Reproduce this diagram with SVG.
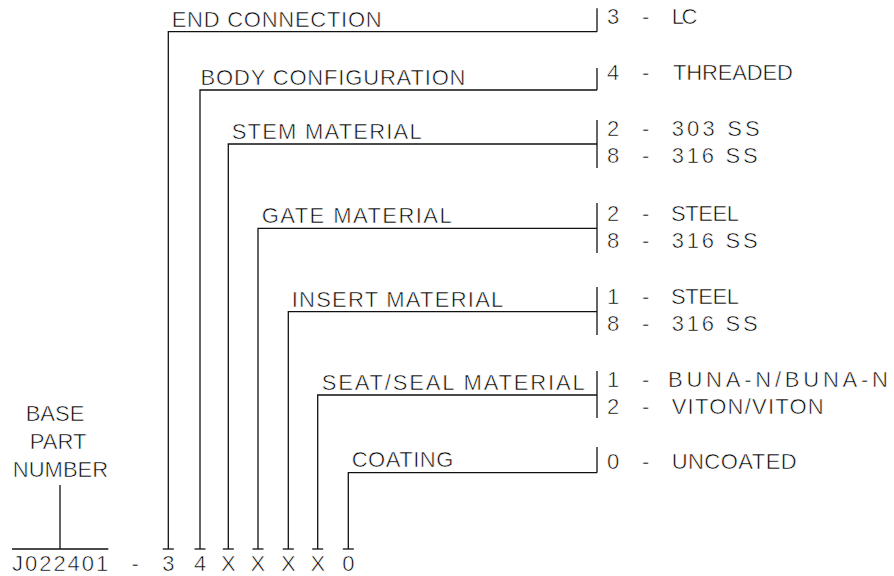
<svg xmlns="http://www.w3.org/2000/svg" width="894" height="576" viewBox="0 0 894 576">
<style>
text{font-family:"Liberation Sans",Arial,sans-serif;font-size:22px;fill:#000;stroke:#fff;stroke-width:0.6px}
.ln{fill:none;stroke:#111;stroke-width:1.3}
.c{text-anchor:middle}
</style>
<rect width="894" height="576" fill="#fff"/>
<g id="connectors" class="ln">
<polyline points="597,31.7 168.3,31.7 168.3,549"/>
<polyline points="597,90 200,90 200,549"/>
<polyline points="597,144 228.3,144 228.3,549"/>
<polyline points="597,228.3 258,228.3 258,549"/>
<polyline points="597,311.7 288.3,311.7 288.3,549"/>
<polyline points="597,395 317.7,395 317.7,549"/>
<polyline points="597,472.7 348.3,472.7 348.3,549"/>
<line x1="60" y1="485" x2="60" y2="549"/>
<line x1="597" y1="8.3" x2="597" y2="31.7"/>
<line x1="597" y1="68" x2="597" y2="90"/>
<line x1="597" y1="120" x2="597" y2="168"/>
<line x1="597" y1="203" x2="597" y2="253"/>
<line x1="597" y1="287" x2="597" y2="335"/>
<line x1="597" y1="371" x2="597" y2="418"/>
<line x1="597" y1="447" x2="597" y2="472.7"/>
</g>
<g id="end-connection">
<text x="171.7" y="26.7" textLength="210" lengthAdjust="spacing">END CONNECTION</text>
<text y="24"><tspan x="607">3</tspan> <tspan x="642">-</tspan> <tspan x="671.7" textLength="25.6" lengthAdjust="spacing">LC</tspan></text>
</g>
<g id="body-configuration">
<text x="200.5" y="85" textLength="265" lengthAdjust="spacing">BODY CONFIGURATION</text>
<text y="80"><tspan x="607">4</tspan> <tspan x="642">-</tspan> <tspan x="673" textLength="120" lengthAdjust="spacing">THREADED</tspan></text>
</g>
<g id="stem-material">
<text x="231.7" y="139.3" textLength="190" lengthAdjust="spacing">STEM MATERIAL</text>
<text y="136"><tspan x="607">2</tspan> <tspan x="642">-</tspan> <tspan x="671.7" textLength="88" lengthAdjust="spacing">303 SS</tspan></text>
<text y="163"><tspan x="607">8</tspan> <tspan x="642">-</tspan> <tspan x="671.7" textLength="86" lengthAdjust="spacing">316 SS</tspan></text>
</g>
<g id="gate-material">
<text x="261.7" y="223.3" textLength="190" lengthAdjust="spacing">GATE MATERIAL</text>
<text y="221"><tspan x="607">2</tspan> <tspan x="642">-</tspan> <tspan x="671" textLength="68" lengthAdjust="spacing">STEEL</tspan></text>
<text y="248"><tspan x="607">8</tspan> <tspan x="642">-</tspan> <tspan x="671.7" textLength="86" lengthAdjust="spacing">316 SS</tspan></text>
</g>
<g id="insert-material">
<text x="291.7" y="306.7" textLength="211.6" lengthAdjust="spacing">INSERT MATERIAL</text>
<text y="304"><tspan x="607">1</tspan> <tspan x="642">-</tspan> <tspan x="671" textLength="68" lengthAdjust="spacing">STEEL</tspan></text>
<text y="331"><tspan x="607">8</tspan> <tspan x="642">-</tspan> <tspan x="671.7" textLength="86" lengthAdjust="spacing">316 SS</tspan></text>
</g>
<g id="seat-seal-material">
<text x="321.7" y="390" textLength="263" lengthAdjust="spacing">SEAT/SEAL MATERIAL</text>
<text y="386.5"><tspan x="607">1</tspan> <tspan x="642">-</tspan> <tspan x="668" textLength="220" lengthAdjust="spacing">BUNA-N/BUNA-N</tspan></text>
<text y="413.5"><tspan x="607">2</tspan> <tspan x="642">-</tspan> <tspan x="671.7" textLength="152" lengthAdjust="spacing">VITON/VITON</tspan></text>
</g>
<g id="coating">
<text x="351.7" y="467.3" textLength="101.6" lengthAdjust="spacing">COATING</text>
<text y="468.5"><tspan x="607">0</tspan> <tspan x="642">-</tspan> <tspan x="671.7" textLength="125" lengthAdjust="spacing">UNCOATED</tspan></text>
</g>
<g id="base-part-number">
<text class="c" x="55" y="421">BASE</text>
<text class="c" x="58" y="449">PART</text>
<text class="c" x="60.5" y="477">NUMBER</text>
</g>
<g id="part-number">
<g class="ln">
<line x1="12" y1="549" x2="108.3" y2="549"/>
<line x1="162.8" y1="549" x2="173.8" y2="549"/>
<line x1="194.5" y1="549" x2="205.5" y2="549"/>
<line x1="222.8" y1="549" x2="233.8" y2="549"/>
<line x1="252.5" y1="549" x2="263.5" y2="549"/>
<line x1="282.8" y1="549" x2="293.8" y2="549"/>
<line x1="312.2" y1="549" x2="323.2" y2="549"/>
<line x1="342.8" y1="549" x2="353.8" y2="549"/>
</g>
<text y="570.7"><tspan x="12" textLength="96.3" lengthAdjust="spacing">J022401</tspan> <tspan x="131.5">-</tspan> <tspan x="162.2">3</tspan> <tspan x="193.9">4</tspan> <tspan x="221">X</tspan> <tspan x="250.5">X</tspan> <tspan x="281">X</tspan> <tspan x="310.4">X</tspan> <tspan x="342.2">0</tspan></text>
</g>
</svg>
